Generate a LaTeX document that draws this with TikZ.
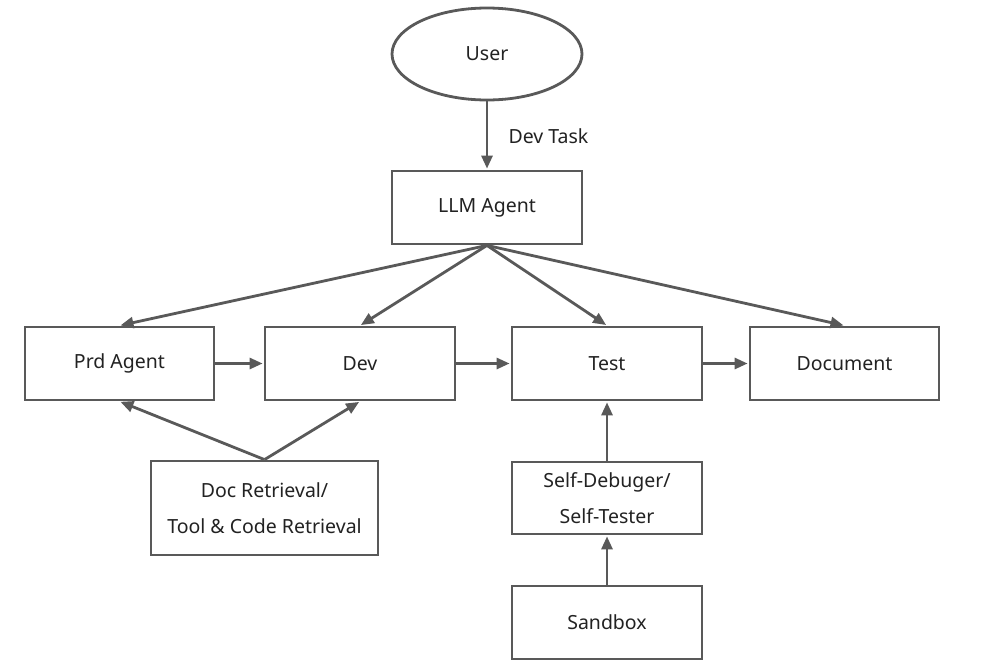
\documentclass[tikz,border=0pt]{standalone}
\usepackage{fontspec}
\setmainfont{Noto Sans}
\usetikzlibrary{shapes.geometric,arrows.meta}
\definecolor{linegray}{HTML}{595959}
\definecolor{txt}{HTML}{222222}
\tikzset{
  box/.style={draw=linegray, line width=2.8pt, rectangle, inner sep=0pt, text=txt, font=\fontsize{19.5}{36}\selectfont, align=center},
  oval/.style={draw=linegray, line width=2.8pt, ellipse, inner sep=0pt, text=txt, font=\fontsize{19.5}{24}\selectfont},
  arr/.style={draw=linegray, line width=2.8pt, -{Triangle[length=13pt,width=11pt]}, shorten >=1pt},
  lbl/.style={text=txt, font=\fontsize{19.5}{24}\selectfont}
}
\begin{document}
\begin{tikzpicture}[x=1pt,y=-1pt]
\fill[white] (0,0) rectangle (1004,664);
\useasboundingbox (0,0) rectangle (1004,664);
\node[oval, minimum width=190pt, minimum height=92pt] (user) at (487,54) {User};
\node[box, minimum width=190pt, minimum height=73pt] (llm) at (487,207.5) {LLM Agent};
\node[box, minimum width=189pt, minimum height=73pt] (prd) at (119.5,363.5) {Prd Agent};
\node[box, minimum width=190pt, minimum height=73pt] (dev) at (360,363.5) {Dev};
\node[box, minimum width=190pt, minimum height=73pt] (test) at (607,363.5) {Test};
\node[box, minimum width=189pt, minimum height=73pt] (doc) at (844.5,363.5) {Document};
\node[box, minimum width=227pt, minimum height=94pt] (ret) at (264.5,508) {Doc Retrieval/\\Tool \& Code Retrieval};
\node[box, minimum width=190pt, minimum height=72pt] (dbg) at (607,498) {Self-Debuger/\\Self-Tester};
\node[box, minimum width=190pt, minimum height=73pt] (sand) at (607,622.5) {Sandbox};
\node[lbl, anchor=west] (task) at (505,136) {Dev Task};
\draw[arr] (user) -- (llm);
\draw[arr] (llm.south) -- (prd.north);
\draw[arr] (llm.south) -- (dev.north);
\draw[arr] (llm.south) -- (test.north);
\draw[arr] (llm.south) -- (doc.north);
\draw[arr] (prd) -- (dev);
\draw[arr] (dev) -- (test);
\draw[arr] (test) -- (doc);
\draw[arr] (ret.north) -- (prd.south);
\draw[arr] (ret.north) -- (dev.south);
\draw[arr] (dbg) -- (test);
\draw[arr] (sand) -- (dbg);
\end{tikzpicture}
\end{document}
